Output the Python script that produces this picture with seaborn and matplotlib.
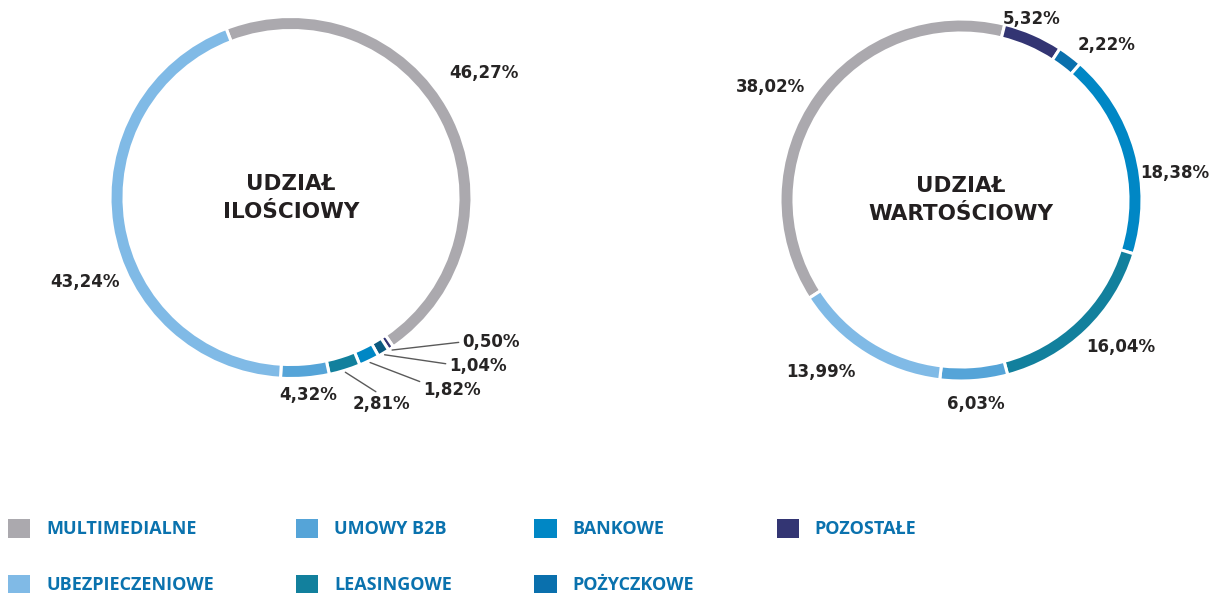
import numpy as np
import matplotlib.pyplot as plt
from matplotlib.patches import Patch
import seaborn as sns

# categories in legend order
categories = ["MULTIMEDIALNE", "UBEZPIECZENIOWE", "UMOWY B2B", "LEASINGOWE",
              "BANKOWE", "POŻYCZKOWE", "POZOSTAŁE"]
qty_share = [46.27, 43.24, 4.32, 2.81, 1.82, 1.04, 0.50]
value_share = [38.02, 13.99, 6.03, 16.04, 18.38, 2.22, 5.32]
titles = ["UDZIAŁ\nILOŚCIOWY", "UDZIAŁ\nWARTOŚCIOWY"]

# clockwise order of the wedges on both rings
ring_order = ["MULTIMEDIALNE", "POZOSTAŁE", "POŻYCZKOWE", "BANKOWE",
              "LEASINGOWE", "UMOWY B2B", "UBEZPIECZENIOWE"]

palette = {
    "MULTIMEDIALNE": "#aba9ae",
    "UBEZPIECZENIOWE": "#80bae6",
    "UMOWY B2B": "#55a4d8",
    "LEASINGOWE": "#12809d",
    "BANKOWE": "#0087c5",
    "POŻYCZKOWE": "#0a70ad",
    "POZOSTAŁE": "#333573",
}
left_palette = dict(palette, **{"POŻYCZKOWE": "#0b5a80"})

sns.set_theme(style="white")
plt.rcParams["font.family"] = ["DejaVu Sans"]

W, H = 1210, 597
R, RW = 181, 14
TXT = "#262424"
LEG = "#0a72ae"
PCT = dict(fontsize=12, fontweight="bold", color=TXT)

fig = plt.figure(figsize=(W / 100, H / 100), dpi=100)
ax = fig.add_axes([0, 0, 1, 1])


def fmt(v):
    return f"{v:.2f}%".replace(".", ",")


def ring(shares, center, start, pal):
    vals = [shares[categories.index(c)] for c in ring_order]
    wedges, _ = ax.pie(vals, colors=[pal[c] for c in ring_order],
                       startangle=start, counterclock=False, radius=R,
                       center=center,
                       wedgeprops=dict(width=RW, edgecolor="white", linewidth=2.2))
    return {c: w for c, w in zip(ring_order, wedges)}


def radial_labels(wedges, shares, center, spec):
    for cat, (dang, dist) in spec.items():
        w = wedges[cat]
        a = np.deg2rad((w.theta1 + w.theta2) / 2 + dang)
        ax.text(center[0] + dist * np.cos(a), center[1] + dist * np.sin(a),
                fmt(shares[categories.index(cat)]), ha="center", va="center", **PCT)


# ---- left ring: quantity share ----
c_left = (291, H - 197.5)
wl = ring(qty_share, c_left, 111, left_palette)
radial_labels(wl, qty_share, c_left, {
    "MULTIMEDIALNE": (5.1, 230),
    "UBEZPIECZENIOWE": (13.5, 223),
    "UMOWY B2B": (0.5, 198),
})
# small wedges with leader lines: text anchor, ha, relpos
leaders = {
    "LEASINGOWE": ((381, 404), "center", (0.5, 1.0)),
    "BANKOWE": ((423, 390), "left", (0.0, 0.9)),
    "POŻYCZKOWE": ((449, 366), "left", (0.0, 0.6)),
    "POZOSTAŁE": ((462, 342), "left", (0.0, 0.5)),
}
for cat, ((tx, ty), ha, rp) in leaders.items():
    w = wl[cat]
    a = np.deg2rad((w.theta1 + w.theta2) / 2)
    xy = (c_left[0] + (R + 2) * np.cos(a), c_left[1] + (R + 2) * np.sin(a))
    ax.annotate(fmt(qty_share[categories.index(cat)]), xy=xy, xytext=(tx, H - ty),
                ha=ha, va="center",
                arrowprops=dict(arrowstyle="-", color="#5a5a5a", lw=1.0,
                                shrinkA=0, shrinkB=0, relpos=rp), **PCT)

# ---- right ring: value share ----
c_right = (961, H - 200)
start_r = 76 + value_share[categories.index("MULTIMEDIALNE")] * 3.6
wr = ring(value_share, c_right, start_r, palette)
radial_labels(wr, value_share, c_right, {
    "POZOSTAŁE": (2.2, 194),
    "POŻYCZKOWE": (-6.1, 213),
    "BANKOWE": (-8.6, 215),
    "LEASINGOWE": (3.4, 217),
    "UMOWY B2B": (0.1, 205),
    "UBEZPIECZENIOWE": (-7.2, 222),
    "MULTIMEDIALNE": (4.9, 222),
})

for (cx, cy), t in zip([c_left, c_right], titles):
    ax.text(cx, cy, t, ha="center", va="center", fontsize=15.5,
            fontweight="bold", color="#231f20", linespacing=1.5)

ax.set_xlim(0, W)
ax.set_ylim(0, H)
ax.set_aspect("equal")
ax.axis("off")

handles = [Patch(facecolor=palette[c], edgecolor="none") for c in categories]
fig.legend(handles, categories, ncol=4, loc="upper left",
           bbox_to_anchor=(8 / W, 1 - 519 / H), frameon=False,
           borderpad=0, borderaxespad=0, handlelength=1.22, handleheight=1.22,
           handletextpad=0.9, labelspacing=2.0, columnspacing=4.55,
           labelcolor=LEG,
           prop=dict(family=["Open Sans", "DejaVu Sans"], size=13, weight="bold"))

fig.savefig("out.png", dpi=100)
